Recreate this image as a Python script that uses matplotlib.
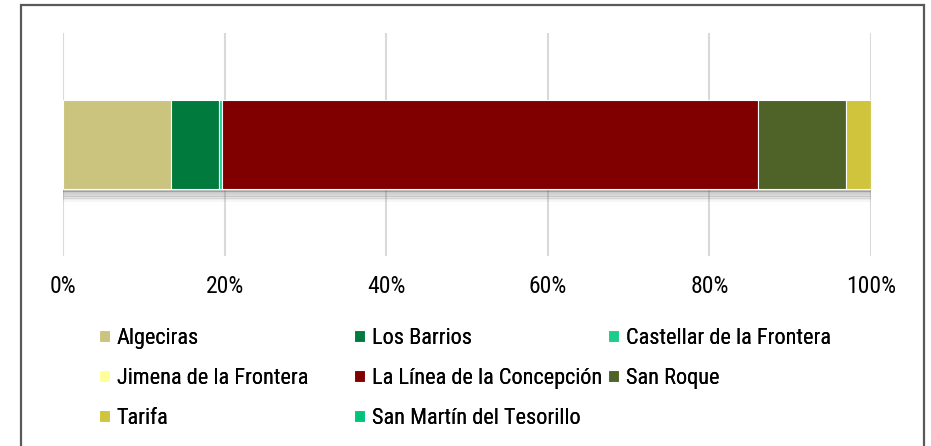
import matplotlib.pyplot as plt
from matplotlib.patches import Rectangle
import matplotlib.font_manager as fm

names = ["Algeciras", "Los Barrios", "Castellar de la Frontera",
         "Jimena de la Frontera", "La Línea de la Concepción", "San Roque",
         "Tarifa", "San Martín del Tesorillo"]
shares = [13.4, 5.9, 0.35, 0.05, 66.3, 11.0, 3.0, 0.05]
colors = ["#cbc47f", "#007a3d", "#1ccc8a", "#ffff99", "#800000", "#4f6228",
          "#cfc43c", "#00c47a"]

avail = {f.name for f in fm.fontManager.ttflist}
fam = [f for f in ["Liberation Sans Narrow", "Arial Narrow", "Roboto Condensed",
                   "Liberation Sans"] if f in avail] + ["DejaVu Sans"]
plt.rcParams['font.family'] = fam

total = sum(shares)
fracs = [s / total for s in shares]

fig = plt.figure(figsize=(9.31, 4.46), dpi=100)
ax = fig.add_axes([63 / 931, 1 - 256 / 446, 808 / 931, 223 / 446])

bh = 0.396
yc = 0.0
# soft shadow under the bar
for k in range(8):
    ax.barh(yc - bh / 2 - 0.008 * k, 1.0, height=0.01, left=0,
            color="#707070", alpha=0.5 * (1 - k / 8), zorder=1, linewidth=0)

left = 0
handles = []
for n, f, c in zip(names, fracs, colors):
    b = ax.barh(yc, f, left=left, height=bh, color=c, edgecolor="white",
                linewidth=0.8, label=n, zorder=3)
    handles.append(b)
    left += f

ax.set_xlim(0, 1)
ax.set_ylim(-0.5, 0.5)
ax.set_yticks([])
ax.set_xticks([0, 0.2, 0.4, 0.6, 0.8, 1.0])
ax.set_xticklabels(["0%", "20%", "40%", "60%", "80%", "100%"], fontsize=17)
ax.tick_params(axis="x", length=0, pad=14)
ax.grid(axis="x", color="#d9d9d9", linewidth=1.5, zorder=0)
ax.set_axisbelow(True)
for s in ax.spines.values():
    s.set_visible(False)

# legend laid out row by row in three fixed columns
cols = [[0, 3, 6], [1, 4, 7], [2, 5]]
xs = [99, 354, 608]
for xi, idx in zip(xs, cols):
    lg = fig.legend([handles[i] for i in idx], [names[i] for i in idx],
                    loc="upper left", bbox_to_anchor=(xi / 931, 1 - 328 / 446),
                    frameon=False, fontsize=16, handlelength=0.5,
                    handleheight=0.5, handletextpad=0.3, labelspacing=0.85,
                    borderaxespad=0, borderpad=0)
    fig.add_artist(lg)

fig.add_artist(Rectangle((21 / 931, -0.05), (924 - 21) / 931, 1.05 - 4.5 / 446,
                         transform=fig.transFigure, fill=False,
                         edgecolor="#595959", linewidth=1.6))

fig.savefig("out.png", dpi=100)
